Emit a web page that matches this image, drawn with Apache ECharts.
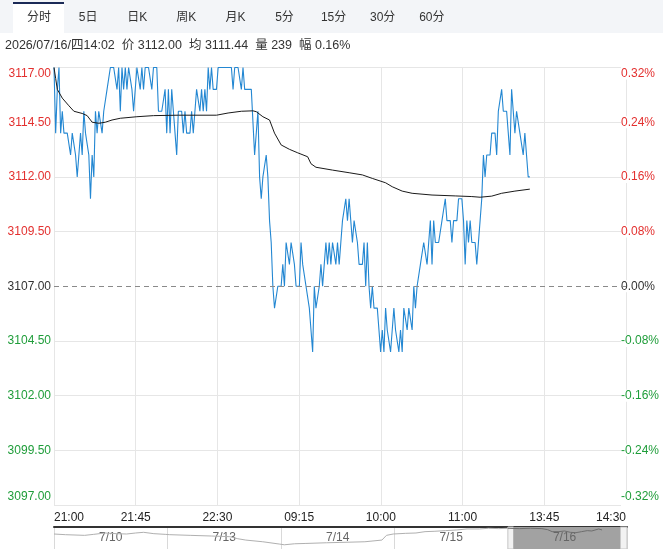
<!DOCTYPE html>
<html>
<head>
<meta charset="utf-8">
<script src="https://cdn.jsdelivr.net/npm/echarts@6/dist/echarts.min.js"></script>
<style>
html,body{margin:0;padding:0;background:#fff;}
#c{width:663px;height:549px;}
</style>
</head>
<body>
<div id="c"></div>
<script>
// ---------- data ----------
const prevClose = 3107;
const tickLabels = ['21:00','21:45','22:30','09:15','10:00','11:00','13:45','14:30'];
const totalMinutes = 345;
const tabs = ['分时','5日','日K','周K','月K','5分','15分','30分','60分'];
const infoText = '2026/07/16/四14:02  价 3112.00  均 3111.44  量 239  幅 0.16%';

const prices = [
3117,3114,3116,3117,3114,3115,3114,3114,3114,3114,
3113,3114,3114,3113,3112,3113,3114,3113,3115,3114,
3114,3113,3111,3113,3112,3115,3114,3115,3115,3114,
3115,3115,3116,3116,3117,3117,3117,3117,3116,3117,
3115,3117,3116,3117,3116,3117,3117,3116,3115,3115,
3117,3117,3116,3117,3116,3117,3117,3117,3117,3116,
3117,3117,3117,3115,3115,3115,3115,3116,3114,3116,
3114,3116,3115,3114,3113,3115,3115,3115,3114,3115,
3114,3114,3114,3115,3114,3115,3116,3116,3115,3116,
3115,3116,3115,3117,3116,3117,3116,3116,3116,3117,
3117,3117,3117,3117,3117,3117,3117,3117,3116,3117,
3117,3117,3117,3116,3117,3116,3116,3116,3116,3116,
3116,3113,3113,3115,3112,3111,3112,3112,3113,3112,
3110,3109,3107,3106,3106,3107,3107,3107,3108,3107,
3109,3109,3108,3109,3109,3108,3107,3107,3107,3109,
3108,3108,3107,3107,3106,3105,3104,3107,3106,3106,
3107,3108,3107,3108,3109,3108,3109,3108,3109,3109,
3108,3109,3108,3109,3110,3110,3111,3110,3111,3110,
3109,3110,3110,3109,3108,3108,3108,3109,3107,3109,
3107,3106,3107,3106,3106,3106,3105,3104,3105,3104,
3106,3105,3105,3104,3105,3106,3105,3105,3104,3105,
3104,3106,3106,3105,3106,3106,3105,3107,3106,3107,
3107,3108,3108,3109,3109,3108,3109,3110,3108,3110,
3109,3109,3109,3109,3110,3110,3111,3110,3110,3110,
3109,3110,3110,3110,3111,3111,3111,3110,3108,3110,
3109,3110,3109,3109,3109,3108,3109,3109,3111,3113,
3112,3113,3113,3113,3114,3114,3114,3113,3115,3115,
3116,3115,3115,3115,3115,3113,3116,3115,3114,3115,
3115,3114,3114,3113,3114,3113,3112,3112
];

// average price line, read at sample minutes [minuteIndex, price]
const avgIdx = [0,1,2,5,9,12,17,20,23,27,31,35,40,50,60,75,98,105,113,120,122,126,130,133,137,142,147,153,155,158,168,178,186,192,200,204,210,216,228,242,252,257,264,270,278,287];
const avgVal = [3117,3116.5,3116.0,3115.6,3115.25,3115.0,3114.9,3114.8,3114.5,3114.45,3114.5,3114.6,3114.68,3114.75,3114.8,3114.82,3114.82,3114.92,3115.0,3115.02,3114.98,3114.75,3114.6,3114.0,3113.46,3113.26,3113.1,3112.92,3112.6,3112.44,3112.31,3112.19,3112.09,3111.93,3111.73,3111.55,3111.35,3111.25,3111.17,3111.13,3111.1,3111.07,3111.12,3111.25,3111.35,3111.44];

// 5-day overview (navigator)
const days = ['7/10','7/13','7/14','7/15','7/16'];
const ovPos = [0,0.1,0.27,0.35,0.45,0.55,0.64,0.72,0.79,0.88,0.98,1.02,1.2,1.39,1.55,1.62,1.69,1.84,1.99,2.03,2.12,2.22,2.4,2.52,2.74,2.89,2.93,2.99,3.1,3.19,3.27,3.35,3.45,3.55,3.64,3.75,3.83,3.92,4.0];
const ovVal = [3100,3098,3096,3099,3103,3101,3100,3103,3105,3101,3099,3098,3096,3094,3092,3086,3082,3077,3070,3068,3071,3072,3074,3075,3077,3082,3096,3100,3102,3103,3107,3108,3110,3112,3115,3115,3117,3116,3117];
const ovTodayPos = [4.0,4.1,4.2,4.3,4.35,4.39,4.45,4.5,4.55,4.6,4.65,4.7,4.74,4.8,4.83];
const ovTodayVal = [3117,3116,3117,3116,3113,3107,3107,3109,3105,3104,3107,3110,3109,3115,3112];

// ---------- chart ----------
const RED = '#e3302f', GREEN = '#1f9d3a', DARK = '#333';
const numFont = "'Liberation Sans', Arial, sans-serif";
const cjkFont = "'Liberation Sans', 'Noto Sans CJK SC', sans-serif";
const step = totalMinutes / 7;

function lblColor(v){ v = Number(v); return v > 0 ? RED : (v < 0 ? GREEN : DARK); }

const ySplitColors = [];
for (let k = 0; k < 9; k++) ySplitColors.push(k === 4 ? 'rgba(0,0,0,0)' : '#e6e6e6');

const graphics = [
  {type:'rect', shape:{x:0,y:0,width:663,height:33}, style:{fill:'#f3f5f8'}, z:0},
  {type:'rect', shape:{x:13,y:3,width:51,height:30}, style:{fill:'#ffffff'}, z:1},
  {type:'rect', shape:{x:13,y:2,width:51,height:2}, style:{fill:'#1b2a57'}, z:2}
];
tabs.forEach((t, k) => {
  graphics.push({type:'text', x: 39 + k*49.1, y: 18, z:3,
    style:{text:t, fill:'#333', font:"12px " + cjkFont, align:'center', verticalAlign:'middle'}});
});
graphics.push({type:'text', x:5, y:46, z:3,
  style:{text:infoText, fill:'#333', font:"12.5px " + cjkFont, align:'left', verticalAlign:'middle'}});

const ovMarks = [];
days.forEach((d, k) => {
  ovMarks.push([{name:d, xAxis:k, itemStyle:{color:'rgba(0,0,0,0)'}}, {xAxis:k+1}]);
});
ovMarks.unshift([{name:'', xAxis:4.05, itemStyle:{color:'#a2a2a2'}}, {xAxis:4.99}]);
ovMarks.unshift([{name:'', xAxis:4.0, itemStyle:{color:'#f2f2f2', borderColor:'#c4c4c4', borderWidth:1}}, {xAxis:4.05}]);
ovMarks.unshift([{name:'', xAxis:4.99, itemStyle:{color:'#f2f2f2', borderColor:'#c4c4c4', borderWidth:1}}, {xAxis:5.05}]);

const option = {
  animation: false,
  backgroundColor: '#fff',
  graphic: graphics,
  grid: [
    {left:54, right:37, top:67.5, height:437.5},
    {left:54, right:36, top:527, height:26}
  ],
  xAxis: [
    {type:'value', gridIndex:0, min:0, max:totalMinutes, interval:step,
     axisLine:{show:false}, axisTick:{show:false},
     splitLine:{show:true, lineStyle:{color:'#e6e6e6', width:1}},
     axisLabel:{show:true, margin:7, color:'#222', fontSize:12, fontFamily:numFont,
       showMinLabel:true, showMaxLabel:true, alignMinLabel:'left', alignMaxLabel:'right',
       formatter:(v)=> tickLabels[Math.round(v/step)] || ''}},
    {type:'value', gridIndex:1, min:0, max:5.05, interval:1, position:'top',
     axisLine:{show:true, onZero:false, lineStyle:{color:'#333', width:2}}, axisTick:{show:false},
     axisLabel:{show:false}, splitLine:{show:true, lineStyle:{color:'#d9d9d9'}}}
  ],
  yAxis: [
    {type:'value', gridIndex:0, position:'left', min:-10, max:10, interval:2.5,
     axisLine:{show:false}, axisTick:{show:false},
     splitLine:{show:true, lineStyle:{color:ySplitColors, width:1}},
     axisLabel:{margin:3, fontSize:12, fontFamily:numFont, color:lblColor,
       formatter:(v)=>{ const s=(prevClose+v).toFixed(2);
         if (v===10) return '{t|'+s+'}'; if (v===-10) return '{b|'+s+'}'; return s; },
       rich:{t:{color:RED, fontSize:12, fontFamily:numFont, padding:[12,0,0,0]},
             b:{color:GREEN, fontSize:12, fontFamily:numFont, padding:[0,0,16,0]}}}},
    {type:'value', gridIndex:0, position:'right', offset:-5, min:-10, max:10, interval:2.5,
     axisLine:{show:false}, axisTick:{show:false}, splitLine:{show:false},
     axisLabel:{margin:0, fontSize:12, fontFamily:numFont, color:lblColor, backgroundColor:'#fff',
       formatter:(v)=>{ const s=(v/prevClose*100).toFixed(2)+'%';
         if (v===10) return '{t|'+s+'}'; if (v===-10) return '{b|'+s+'}'; return s; },
       rich:{t:{color:RED, fontSize:12, fontFamily:numFont, padding:[12,0,0,0]},
             b:{color:GREEN, fontSize:12, fontFamily:numFont, padding:[0,0,16,0]}}}},
    {type:'value', gridIndex:1, min:3055.5, max:3120.8, show:false}
  ],
  series: [
    {type:'line', name:'price', xAxisIndex:0, yAxisIndex:0, showSymbol:false, symbol:'none',
     data: prices.map((p,i)=>[i, p - prevClose]),
     lineStyle:{color:'#2387d2', width:1.1}, z:3,
     markLine:{silent:true, symbol:['none','none'], label:{show:false},
       lineStyle:{color:'#8a8a8a', type:[5,4], width:1}, data:[{yAxis:0}]}},
    {type:'line', name:'avg', xAxisIndex:0, yAxisIndex:0, showSymbol:false, symbol:'none',
     data: avgIdx.map((m,k)=>[m, avgVal[k] - prevClose]),
     lineStyle:{color:'#1a1a1a', width:1}, z:4},
    {type:'line', xAxisIndex:1, yAxisIndex:2, showSymbol:false, symbol:'none',
     data: ovPos.map((x,k)=>[x, ovVal[k]]),
     lineStyle:{color:'#b0b0b0', width:1}, z:3,
     markArea:{silent:true, z:1, label:{show:true, position:'inside', color:'#666', fontSize:12, fontFamily:numFont},
       data: ovMarks}},
    {type:'line', xAxisIndex:1, yAxisIndex:2, showSymbol:false, symbol:'none',
     data: ovTodayPos.map((x,k)=>[x, ovTodayVal[k]]),
     lineStyle:{color:'#6e6e6e', width:1}, z:3}
  ]
};

const chart = echarts.init(document.getElementById('c'), null, {renderer:'canvas'});
chart.setOption(option);
</script>
</body>
</html>
